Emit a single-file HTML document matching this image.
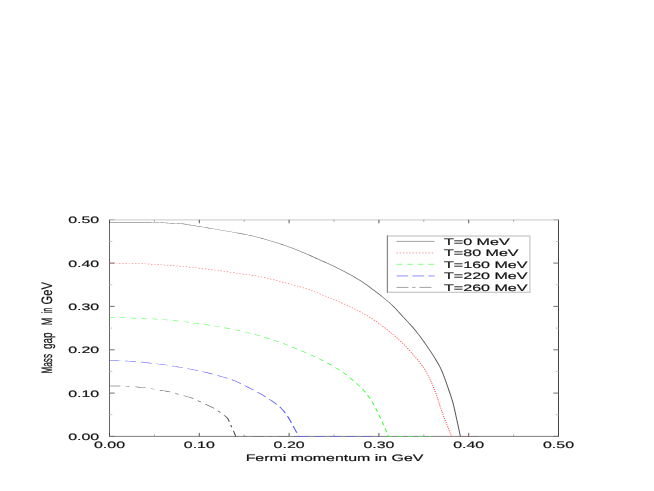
<!DOCTYPE html>
<html><head><meta charset="utf-8"><title>chart</title>
<style>
html,body{margin:0;padding:0;background:#fff;}
body{width:654px;height:491px;overflow:hidden;font-family:"Liberation Sans",sans-serif;}
svg{display:block;}
text{font-family:"Liberation Sans",sans-serif;fill:#111;stroke:#111;stroke-width:0.18;text-rendering:geometricPrecision;}
</style></head><body>
<svg width="654" height="491" viewBox="0 0 654 491">
<rect x="0" y="0" width="654" height="491" fill="#ffffff"/>

<g fill="none" stroke-linecap="butt">
<line x1="109.5" y1="219.8" x2="558.5" y2="219.8" stroke="#d4d4d4" stroke-width="1.3"/>
<line x1="109.5" y1="436.4" x2="558.5" y2="436.4" stroke="#808080" stroke-width="1"/>
<line x1="109.5" y1="219.8" x2="109.5" y2="436.4" stroke="#666" stroke-width="1"/>
<line x1="558.5" y1="219.8" x2="558.5" y2="436.4" stroke="#444" stroke-width="1"/>
<line x1="109.5" y1="436.4" x2="109.5" y2="432.9" stroke="#444" stroke-width="0.9"/>
<line x1="109.5" y1="219.8" x2="109.5" y2="223.3" stroke="#444" stroke-width="0.9"/>
<line x1="109.5" y1="436.4" x2="114.7" y2="436.4" stroke="#707070" stroke-width="1"/>
<line x1="558.5" y1="436.4" x2="553.3" y2="436.4" stroke="#707070" stroke-width="1"/>
<line x1="154.4" y1="436.4" x2="154.4" y2="434.5" stroke="#999" stroke-width="0.9"/>
<line x1="154.4" y1="219.8" x2="154.4" y2="221.7" stroke="#999" stroke-width="0.9"/>
<line x1="109.5" y1="414.7" x2="112.3" y2="414.7" stroke="#c8c8c8" stroke-width="1"/>
<line x1="558.5" y1="414.7" x2="555.7" y2="414.7" stroke="#c8c8c8" stroke-width="1"/>
<line x1="199.3" y1="436.4" x2="199.3" y2="432.9" stroke="#444" stroke-width="0.9"/>
<line x1="199.3" y1="219.8" x2="199.3" y2="223.3" stroke="#444" stroke-width="0.9"/>
<line x1="109.5" y1="393.1" x2="114.7" y2="393.1" stroke="#707070" stroke-width="1"/>
<line x1="558.5" y1="393.1" x2="553.3" y2="393.1" stroke="#707070" stroke-width="1"/>
<line x1="244.2" y1="436.4" x2="244.2" y2="434.5" stroke="#999" stroke-width="0.9"/>
<line x1="244.2" y1="219.8" x2="244.2" y2="221.7" stroke="#999" stroke-width="0.9"/>
<line x1="109.5" y1="371.4" x2="112.3" y2="371.4" stroke="#c8c8c8" stroke-width="1"/>
<line x1="558.5" y1="371.4" x2="555.7" y2="371.4" stroke="#c8c8c8" stroke-width="1"/>
<line x1="289.1" y1="436.4" x2="289.1" y2="432.9" stroke="#444" stroke-width="0.9"/>
<line x1="289.1" y1="219.8" x2="289.1" y2="223.3" stroke="#444" stroke-width="0.9"/>
<line x1="109.5" y1="349.8" x2="114.7" y2="349.8" stroke="#707070" stroke-width="1"/>
<line x1="558.5" y1="349.8" x2="553.3" y2="349.8" stroke="#707070" stroke-width="1"/>
<line x1="334.0" y1="436.4" x2="334.0" y2="434.5" stroke="#999" stroke-width="0.9"/>
<line x1="334.0" y1="219.8" x2="334.0" y2="221.7" stroke="#999" stroke-width="0.9"/>
<line x1="109.5" y1="328.1" x2="112.3" y2="328.1" stroke="#c8c8c8" stroke-width="1"/>
<line x1="558.5" y1="328.1" x2="555.7" y2="328.1" stroke="#c8c8c8" stroke-width="1"/>
<line x1="378.9" y1="436.4" x2="378.9" y2="432.9" stroke="#444" stroke-width="0.9"/>
<line x1="378.9" y1="219.8" x2="378.9" y2="223.3" stroke="#444" stroke-width="0.9"/>
<line x1="109.5" y1="306.4" x2="114.7" y2="306.4" stroke="#707070" stroke-width="1"/>
<line x1="558.5" y1="306.4" x2="553.3" y2="306.4" stroke="#707070" stroke-width="1"/>
<line x1="423.8" y1="436.4" x2="423.8" y2="434.5" stroke="#999" stroke-width="0.9"/>
<line x1="423.8" y1="219.8" x2="423.8" y2="221.7" stroke="#999" stroke-width="0.9"/>
<line x1="109.5" y1="284.8" x2="112.3" y2="284.8" stroke="#c8c8c8" stroke-width="1"/>
<line x1="558.5" y1="284.8" x2="555.7" y2="284.8" stroke="#c8c8c8" stroke-width="1"/>
<line x1="468.7" y1="436.4" x2="468.7" y2="432.9" stroke="#444" stroke-width="0.9"/>
<line x1="468.7" y1="219.8" x2="468.7" y2="223.3" stroke="#444" stroke-width="0.9"/>
<line x1="109.5" y1="263.1" x2="114.7" y2="263.1" stroke="#707070" stroke-width="1"/>
<line x1="558.5" y1="263.1" x2="553.3" y2="263.1" stroke="#707070" stroke-width="1"/>
<line x1="513.6" y1="436.4" x2="513.6" y2="434.5" stroke="#999" stroke-width="0.9"/>
<line x1="513.6" y1="219.8" x2="513.6" y2="221.7" stroke="#999" stroke-width="0.9"/>
<line x1="109.5" y1="241.5" x2="112.3" y2="241.5" stroke="#c8c8c8" stroke-width="1"/>
<line x1="558.5" y1="241.5" x2="555.7" y2="241.5" stroke="#c8c8c8" stroke-width="1"/>
<line x1="558.5" y1="436.4" x2="558.5" y2="432.9" stroke="#444" stroke-width="0.9"/>
<line x1="558.5" y1="219.8" x2="558.5" y2="223.3" stroke="#444" stroke-width="0.9"/>
<line x1="109.5" y1="219.8" x2="114.7" y2="219.8" stroke="#b0b0b0" stroke-width="1"/>
<line x1="558.5" y1="219.8" x2="553.3" y2="219.8" stroke="#b0b0b0" stroke-width="1"/>
</g>
<g fill="none" stroke-linejoin="round" stroke-linecap="butt" transform="scale(2.50,1)">
<path d="M43.80,222.20 L45.10,222.20 L46.89,222.20 L49.03,222.20 L51.37,222.19 L53.78,222.20 L56.11,222.22 L58.23,222.25 L60.00,222.30 L61.46,222.38 L62.76,222.48 L63.92,222.59 L64.98,222.72 L65.94,222.85 L66.83,222.98 L67.67,223.10 L68.48,223.20 L69.21,223.27 L69.81,223.32 L70.32,223.35 L70.78,223.39 L71.23,223.43 L71.70,223.51 L72.24,223.63 L72.88,223.80 L73.61,224.03 L74.38,224.31 L75.19,224.62 L76.04,224.96 L76.92,225.33 L77.83,225.71 L78.77,226.11 L79.72,226.50 L80.70,226.90 L81.72,227.32 L82.77,227.76 L83.84,228.21 L84.93,228.67 L86.04,229.14 L87.16,229.62 L88.28,230.10 L89.44,230.59 L90.64,231.10 L91.88,231.62 L93.12,232.14 L94.34,232.67 L95.53,233.19 L96.65,233.70 L97.68,234.20 L98.61,234.67 L99.44,235.10 L100.21,235.52 L100.94,235.94 L101.65,236.38 L102.39,236.84 L103.16,237.34 L104.00,237.90 L104.91,238.52 L105.85,239.17 L106.83,239.86 L107.83,240.59 L108.84,241.34 L109.85,242.11 L110.85,242.90 L111.84,243.70 L112.82,244.52 L113.79,245.35 L114.77,246.20 L115.74,247.07 L116.71,247.97 L117.69,248.89 L118.66,249.83 L119.64,250.80 L120.61,251.79 L121.58,252.81 L122.55,253.86 L123.52,254.93 L124.49,256.01 L125.47,257.12 L126.47,258.25 L127.48,259.40 L128.52,260.57 L129.58,261.76 L130.66,262.97 L131.74,264.21 L132.82,265.46 L133.90,266.72 L134.96,268.01 L136.00,269.30 L137.02,270.61 L138.03,271.92 L139.03,273.26 L140.03,274.61 L141.00,275.97 L141.97,277.36 L142.91,278.77 L143.84,280.20 L144.75,281.66 L145.64,283.16 L146.52,284.68 L147.38,286.22 L148.23,287.78 L149.06,289.33 L149.88,290.87 L150.68,292.40 L151.47,293.92 L152.25,295.45 L153.02,296.98 L153.78,298.50 L154.51,300.02 L155.22,301.53 L155.91,303.02 L156.56,304.50 L157.17,305.94 L157.74,307.35 L158.27,308.73 L158.78,310.11 L159.28,311.50 L159.79,312.92 L160.32,314.38 L160.88,315.90 L161.47,317.48 L162.08,319.10 L162.70,320.76 L163.34,322.45 L163.97,324.16 L164.59,325.90 L165.21,327.65 L165.80,329.40 L166.38,331.16 L166.94,332.94 L167.50,334.74 L168.05,336.55 L168.59,338.38 L169.13,340.23 L169.67,342.11 L170.20,344.00 L170.74,345.94 L171.29,347.94 L171.84,349.98 L172.38,352.02 L172.91,354.06 L173.42,356.07 L173.91,358.02 L174.36,359.90 L174.77,361.62 L175.13,363.17 L175.47,364.62 L175.78,366.06 L176.10,367.57 L176.41,369.23 L176.75,371.11 L177.12,373.30 L177.53,375.92 L177.98,378.96 L178.46,382.27 L178.94,385.70 L179.40,389.11 L179.84,392.36 L180.23,395.31 L180.56,397.80 L180.81,399.71 L180.99,401.11 L181.12,402.18 L181.22,403.11 L181.32,404.05 L181.43,405.20 L181.57,406.72 L181.76,408.80 L182.02,411.64 L182.33,415.18 L182.68,419.15 L183.03,423.29 L183.38,427.34 L183.70,431.05 L183.97,434.16 L184.16,436.40 L191.40,436.40" stroke="#5a5a5a" stroke-width="0.42"/>
<path d="M43.80,263.00 L44.37,263.03 M45.08,263.06 L45.65,263.08 M46.36,263.11 L46.92,263.14 M47.63,263.17 L47.82,263.18 L48.20,263.19 M48.91,263.22 L49.48,263.25 M50.19,263.28 L50.76,263.31 M51.47,263.35 L51.51,263.35 L52.03,263.38 M52.74,263.42 L53.31,263.45 M54.02,263.50 L54.59,263.53 M55.30,263.58 L55.87,263.63 M56.57,263.69 L56.68,263.70 L57.14,263.75 M57.85,263.82 L58.05,263.85 L58.42,263.89 M59.12,263.98 L59.35,264.01 L59.69,264.06 M60.40,264.16 L60.58,264.18 L60.96,264.24 M61.67,264.35 L61.77,264.37 L62.24,264.45 M62.94,264.57 L62.94,264.57 L63.51,264.67 M64.21,264.79 L64.78,264.89 M65.48,265.02 L66.05,265.12 M66.75,265.25 L67.32,265.35 M68.02,265.48 L68.59,265.58 M69.29,265.71 L69.86,265.82 M70.56,265.96 L71.13,266.07 M71.83,266.21 L72.40,266.33 M73.10,266.47 L73.67,266.60 M74.37,266.75 L74.93,266.88 M75.63,267.05 L76.20,267.19 M76.90,267.37 L77.46,267.51 M78.16,267.70 L78.69,267.85 L78.72,267.86 M79.42,268.06 L79.91,268.20 L79.98,268.22 M80.68,268.42 L81.14,268.56 L81.24,268.59 M81.94,268.80 L82.36,268.93 L82.50,268.97 M83.19,269.19 L83.59,269.31 L83.75,269.36 M84.45,269.59 L84.81,269.70 L85.01,269.77 M85.70,269.99 L86.04,270.10 L86.26,270.17 M86.96,270.40 L87.27,270.51 L87.51,270.59 M88.21,270.83 L88.52,270.94 L88.77,271.03 M89.46,271.27 L89.77,271.38 L90.02,271.47 M90.71,271.72 L91.01,271.83 L91.27,271.92 M91.96,272.17 L92.25,272.28 L92.51,272.37 M93.21,272.63 L93.47,272.73 L93.76,272.83 M94.45,273.09 L94.67,273.17 L95.01,273.29 M95.70,273.55 L95.84,273.60 L96.26,273.75 M96.95,274.00 L96.97,274.01 L97.51,274.19 M98.20,274.43 L98.76,274.62 M99.45,274.86 L100.01,275.05 M100.70,275.30 L101.24,275.50 L101.26,275.50 M101.95,275.77 L102.30,275.91 L102.50,276.00 M103.19,276.29 L103.38,276.37 L103.74,276.55 M104.42,276.87 L104.48,276.90 L104.96,277.15 M105.64,277.50 L106.18,277.81 M106.85,278.18 L107.39,278.50 M108.06,278.89 L108.59,279.22 M109.25,279.63 L109.79,279.97 M110.45,280.39 L110.98,280.73 M111.64,281.16 L112.17,281.51 M112.83,281.95 L113.36,282.30 M114.01,282.74 L114.54,283.09 M115.20,283.53 L115.73,283.88 M116.39,284.31 L116.92,284.66 M117.58,285.10 L118.10,285.46 M118.76,285.92 L119.28,286.29 M119.93,286.76 L120.45,287.16 M121.09,287.65 L121.61,288.06 M122.24,288.57 L122.75,289.01 M123.38,289.55 L123.56,289.70 L123.88,289.99 M124.50,290.56 L125.00,291.02 M125.62,291.60 L126.11,292.07 M126.73,292.66 L127.22,293.15 M127.83,293.75 L128.27,294.19 L128.32,294.23 M128.92,294.84 L129.41,295.34 M130.01,295.95 L130.50,296.45 M131.10,297.07 L131.59,297.56 M132.19,298.19 L132.67,298.69 M133.27,299.32 L133.75,299.83 M134.35,300.46 L134.69,300.82 L134.83,300.96 M135.43,301.60 L135.91,302.11 M136.51,302.74 L136.99,303.26 M137.58,303.90 L138.06,304.42 M138.65,305.08 L138.99,305.46 L139.12,305.62 M139.70,306.29 L139.78,306.39 L140.16,306.84 M140.74,307.53 L141.19,308.10 M141.76,308.81 L142.03,309.16 L142.21,309.39 M142.77,310.11 L142.84,310.20 L143.22,310.70 M143.77,311.43 L144.22,312.02 M144.77,312.76 L145.21,313.36 M145.76,314.12 L146.16,314.68 L146.19,314.73 M146.73,315.50 L146.98,315.87 L147.16,316.13 M147.68,316.92 L147.80,317.09 L148.10,317.56 M148.62,318.37 L148.62,318.37 L149.03,319.03 M149.53,319.86 L149.93,320.53 M150.42,321.38 L150.82,322.07 M151.30,322.94 L151.68,323.64 M152.16,324.51 L152.54,325.22 M153.00,326.11 L153.38,326.83 M153.84,327.72 L154.21,328.44 M154.67,329.34 L155.04,330.07 M155.49,330.97 L155.85,331.71 M156.30,332.62 L156.66,333.35 M157.11,334.27 L157.35,334.77 L157.46,335.02 M157.90,335.95 L157.97,336.10 L158.24,336.70 M158.67,337.64 L159.01,338.40 M159.43,339.36 L159.72,340.04 L159.76,340.13 M160.17,341.09 L160.30,341.39 L160.50,341.87 M160.90,342.84 L161.22,343.63 M161.61,344.61 L161.92,345.40 M162.31,346.39 L162.59,347.11 L162.62,347.19 M162.99,348.19 L163.14,348.58 L163.29,349.00 M163.66,350.01 L163.69,350.09 L163.96,350.82 M164.32,351.84 L164.60,352.66 M164.95,353.68 L165.23,354.51 M165.58,355.54 L165.86,356.37 M166.21,357.40 L166.48,358.23 M166.83,359.26 L167.10,360.09 M167.44,361.13 L167.71,361.96 M168.05,363.00 L168.31,363.85 M168.63,364.90 L168.88,365.75 M169.19,366.81 L169.43,367.67 M169.73,368.74 L169.74,368.77 L169.95,369.62 M170.23,370.70 L170.28,370.90 L170.44,371.59 M170.70,372.69 L170.78,373.06 L170.89,373.58 M171.13,374.69 L171.25,375.26 L171.32,375.59 M171.54,376.71 L171.70,377.49 L171.72,377.61 M171.93,378.73 L172.10,379.64 M172.30,380.77 L172.46,381.68 M172.66,382.82 L172.81,383.73 M173.00,384.87 L173.15,385.79 M173.34,386.93 L173.49,387.84 M173.67,388.98 L173.72,389.30 L173.81,389.90 M173.99,391.04 L174.11,391.86 L174.13,391.97 M174.29,393.11 L174.43,394.04 M174.59,395.19 L174.71,396.11 M174.87,397.26 L174.88,397.33 L174.99,398.19 M175.14,399.34 L175.25,400.12 L175.27,400.27 M175.42,401.42 L175.54,402.35 M175.69,403.51 L175.81,404.43 M175.96,405.59 L175.96,405.61 L176.08,406.52 M176.24,407.67 L176.31,408.19 L176.36,408.59 M176.52,409.74 L176.64,410.60 L176.65,410.67 M176.82,411.82 L176.95,412.74 M177.12,413.89 L177.25,414.81 M177.42,415.95 L177.56,416.88 M177.73,418.02 L177.87,418.94 M178.05,420.08 L178.19,421.00 L178.19,421.00 M178.37,422.15 L178.47,422.81 L178.51,423.07 M178.69,424.21 L178.74,424.55 L178.83,425.13 M179.01,426.27 L179.16,427.19 M179.34,428.33 L179.49,429.25 M179.67,430.38 L179.75,430.87 L179.83,431.30 M180.01,432.44 L180.17,433.35 M180.36,434.49 L180.39,434.69 L180.51,435.40 M180.77,436.40 L181.34,436.40 M182.04,436.40 L182.61,436.40 M183.32,436.40 L183.89,436.40 M184.60,436.40 L185.17,436.40 M185.88,436.40 L186.45,436.40 M187.16,436.40 L187.73,436.40" stroke="#ff4444" stroke-width="0.44"/>
<path d="M43.80,317.60 L44.74,317.65 L46.00,317.70 L46.11,317.70 M48.03,317.78 L49.15,317.83 L50.34,317.89 M52.26,318.00 L52.68,318.02 L54.40,318.15 L54.56,318.17 M56.48,318.35 L57.51,318.47 L58.79,318.62 M60.70,318.88 L62.01,319.07 L63.00,319.23 M64.91,319.56 L65.00,319.58 L66.50,319.87 L67.20,320.03 M69.10,320.47 L69.52,320.57 L71.05,320.97 L71.39,321.07 M73.28,321.62 L74.14,321.87 L75.55,322.32 M77.43,322.93 L78.61,323.32 L79.70,323.70 M81.58,324.35 L82.61,324.72 L83.83,325.18 M85.70,325.92 L86.22,326.13 L87.40,326.63 L87.94,326.86 M89.79,327.70 L89.80,327.70 L91.02,328.27 L92.01,328.75 M93.85,329.67 L94.68,330.10 L95.90,330.75 L96.05,330.84 M97.87,331.88 L98.34,332.15 L99.56,332.90 L100.04,333.21 M101.83,334.37 L102.01,334.49 L103.23,335.33 L103.96,335.84 M105.72,337.12 L106.91,338.03 L107.82,338.74 M109.54,340.15 L110.59,341.05 L111.59,341.93 M113.27,343.47 L114.26,344.41 L115.28,345.39 M116.93,347.02 L117.94,348.04 L118.90,349.03 M120.52,350.73 L121.65,351.93 L122.47,352.81 M124.07,354.57 L124.17,354.69 L125.42,356.09 L125.98,356.74 M127.54,358.60 L127.80,358.91 L128.92,360.30 L129.39,360.91 M130.89,362.90 L131.04,363.09 L132.05,364.50 L132.66,365.38 M134.09,367.51 L134.87,368.70 L135.74,370.06 L135.78,370.14 M137.15,372.39 L137.33,372.69 L138.04,373.94 L138.70,375.17 L138.72,375.20 M139.96,377.64 L140.53,378.83 L141.12,380.09 L141.39,380.67 M142.54,383.23 L142.93,384.12 L143.52,385.51 L143.88,386.37 M144.94,389.04 L145.24,389.82 L145.77,391.30 L146.12,392.34 M147.02,395.17 L147.22,395.87 L147.66,397.43 L147.99,398.66 M148.74,401.61 L148.90,402.26 L149.29,403.92 L149.59,405.19 M150.25,408.19 L150.43,409.02 L150.78,410.76 L151.00,411.84 M151.58,414.88 L151.82,416.14 L152.17,418.00 L152.27,418.56 M152.83,421.62 L152.90,421.97 L153.30,424.26 L153.49,425.31 M154.02,428.39 L154.14,429.04 L154.53,431.32 L154.66,432.09 M155.19,435.16 L155.40,436.40 L156.94,436.40 M158.86,436.40 L161.17,436.40 M163.09,436.40 L165.40,436.40 M167.32,436.40 L169.63,436.40 M171.55,436.40 L172.40,436.40" stroke="#3cff3c" stroke-width="0.46"/>
<path d="M43.80,360.80 L44.15,360.80 L44.59,360.80 L45.12,360.80 L45.72,360.81 L46.37,360.81 L47.05,360.83 L47.74,360.86 L48.15,360.88 M50.13,361.02 L50.71,361.07 L51.53,361.14 L52.36,361.23 L53.20,361.33 L54.03,361.46 L54.47,361.53 M56.43,361.96 L56.44,361.97 L57.24,362.19 L58.05,362.42 L58.85,362.66 L59.65,362.91 L60.44,363.16 L60.71,363.24 M62.66,363.82 L62.83,363.87 L63.62,364.10 L64.41,364.34 L65.21,364.59 L65.99,364.85 L66.78,365.12 L66.93,365.17 M68.86,365.92 L69.11,366.02 L69.88,366.35 L70.64,366.69 L71.41,367.04 L72.18,367.39 L72.95,367.75 L73.06,367.80 M74.98,368.65 L75.29,368.79 L76.08,369.13 L76.87,369.48 L77.66,369.84 L78.44,370.21 L79.17,370.57 M81.05,371.59 L81.50,371.85 L82.24,372.30 L82.97,372.76 L83.72,373.23 L84.47,373.73 L85.12,374.17 M86.95,375.43 L87.79,376.01 L88.72,376.66 L89.65,377.33 L90.57,378.01 L90.94,378.29 M92.73,379.73 L93.04,380.00 L93.69,380.61 L94.27,381.20 L94.78,381.78 L95.27,382.36 L95.73,382.94 L96.21,383.56 L96.35,383.73 M97.94,385.69 L98.53,386.42 L99.20,387.23 L99.87,388.06 L100.56,388.92 L101.25,389.80 L101.42,390.03 M102.96,392.10 L103.27,392.53 L103.95,393.49 L104.63,394.47 L105.31,395.48 L105.98,396.48 L106.23,396.88 M107.67,399.15 L107.88,399.50 L108.47,400.47 L109.04,401.43 L109.59,402.37 L110.13,403.32 L110.65,404.28 L110.69,404.36 M111.92,406.95 L112.12,407.40 L112.57,408.54 L113.01,409.71 L113.42,410.91 L113.82,412.15 L114.13,413.18 M114.99,416.16 L115.32,417.40 L115.68,418.83 L116.04,420.35 L116.40,421.93 L116.60,422.89 M117.26,426.00 L117.39,426.62 L117.68,428.03 L117.96,429.30 L118.22,430.47 L118.47,431.58 L118.71,432.63 L118.75,432.81 M119.45,435.90 L119.56,436.40 L123.59,436.40 M125.57,436.40 L129.92,436.40 M131.90,436.40 L136.25,436.40 M138.23,436.40 L142.58,436.40 M144.56,436.40 L148.91,436.40 M150.89,436.40 L151.68,436.40" stroke="#5050ff" stroke-width="0.46"/>
<path d="M43.80,385.90 L44.15,385.91 L44.60,385.92 L45.14,385.93 L45.74,385.95 L46.39,385.97 L47.06,386.00 L47.74,386.04 L48.18,386.08 M50.27,386.32 L50.54,386.35 L51.31,386.46 L51.71,386.52 M53.92,386.87 L54.12,386.90 L54.68,387.00 L55.18,387.09 L55.63,387.17 L56.07,387.26 L56.50,387.36 L56.95,387.48 L57.44,387.62 L58.00,387.80 L58.25,387.89 M60.30,388.64 L60.83,388.85 L61.58,389.15 L61.70,389.20 M63.86,390.09 L64.21,390.24 L64.74,390.46 L65.24,390.67 L65.71,390.87 L66.16,391.07 L66.59,391.27 L67.02,391.48 L67.44,391.70 L67.83,391.91 L68.07,392.06 M70.02,393.37 L70.36,393.60 L70.97,394.01 L71.36,394.26 M73.43,395.61 L74.12,396.07 L74.91,396.61 L75.63,397.13 L76.24,397.60 L76.73,398.01 L77.13,398.38 L77.40,398.65 M79.12,400.66 L79.16,400.70 L79.70,401.30 L80.31,402.00 L80.31,402.00 M82.14,404.10 L82.33,404.32 L82.98,405.08 L83.57,405.78 L84.08,406.40 L84.49,406.91 L84.82,407.31 L85.10,407.66 L85.35,407.98 L85.59,408.32 L85.67,408.43 M87.17,410.88 L87.51,411.45 L88.08,412.43 L88.18,412.59 M89.68,415.31 L89.81,415.55 L90.29,416.52 L90.68,417.40 L90.97,418.17 L91.18,418.86 L91.33,419.51 L91.45,420.12 L91.54,420.75 L91.63,421.40 L91.67,421.68 M92.29,425.03 L92.44,425.83 L92.64,426.90 L92.71,427.32 M93.35,430.86 L93.36,430.90 L93.51,431.74 L93.66,432.58 L93.80,433.39 L93.93,434.15 L94.05,434.85 L94.16,435.47 L94.25,435.99 L94.32,436.40 L95.24,436.40 M97.34,436.40 L98.78,436.40 M101.00,436.40 L105.38,436.40 M107.48,436.40 L108.92,436.40 M111.14,436.40 L115.52,436.40 M117.62,436.40 L119.06,436.40" stroke="#484848" stroke-width="0.44"/>
</g>
<g opacity="0.99">
<rect x="387.4" y="236.0" width="142.5" height="56.3" fill="#fff" stroke="#cacaca" stroke-width="1.3"/>
<line x1="387.4" y1="235.4" x2="387.4" y2="292.9" stroke="#808080" stroke-width="1"/>
<line x1="396.5" y1="241.4" x2="434.5" y2="241.4" stroke="#a4a4a4" stroke-width="1" />
<text transform="translate(444.0,244.7) scale(1.714,1)" font-size="9.4">T=0 MeV</text>
<line x1="396.5" y1="252.9" x2="434.5" y2="252.9" stroke="#ffa8a8" stroke-width="1.3" stroke-dasharray="1.4 1.8"/>
<text transform="translate(444.0,256.2) scale(1.714,1)" font-size="9.4">T=80 MeV</text>
<line x1="396.5" y1="264.4" x2="434.5" y2="264.4" stroke="#a0ffa0" stroke-width="1.2" stroke-dasharray="5.9 4.7"/>
<text transform="translate(444.0,267.7) scale(1.714,1)" font-size="9.4">T=160 MeV</text>
<line x1="396.5" y1="275.9" x2="434.5" y2="275.9" stroke="#c0c0ff" stroke-width="1.8" stroke-dasharray="11.6 4.4"/>
<text transform="translate(444.0,279.2) scale(1.714,1)" font-size="9.4">T=220 MeV</text>
<line x1="396.5" y1="287.4" x2="434.5" y2="287.4" stroke="#a4a4a4" stroke-width="1" stroke-dasharray="12 3.7 3.3 4"/>
<text transform="translate(444.0,290.7) scale(1.714,1)" font-size="9.4">T=260 MeV</text>
<text transform="translate(109.5,447.8) scale(1.70,1)" font-size="9.4" text-anchor="middle">0.00</text>
<text transform="translate(99.2,439.9) scale(1.70,1)" font-size="9.4" text-anchor="end">0.00</text>
<text transform="translate(199.3,447.8) scale(1.70,1)" font-size="9.4" text-anchor="middle">0.10</text>
<text transform="translate(99.2,396.6) scale(1.70,1)" font-size="9.4" text-anchor="end">0.10</text>
<text transform="translate(289.1,447.8) scale(1.70,1)" font-size="9.4" text-anchor="middle">0.20</text>
<text transform="translate(99.2,353.3) scale(1.70,1)" font-size="9.4" text-anchor="end">0.20</text>
<text transform="translate(378.9,447.8) scale(1.70,1)" font-size="9.4" text-anchor="middle">0.30</text>
<text transform="translate(99.2,309.9) scale(1.70,1)" font-size="9.4" text-anchor="end">0.30</text>
<text transform="translate(468.7,447.8) scale(1.70,1)" font-size="9.4" text-anchor="middle">0.40</text>
<text transform="translate(99.2,266.6) scale(1.70,1)" font-size="9.4" text-anchor="end">0.40</text>
<text transform="translate(558.5,447.8) scale(1.70,1)" font-size="9.4" text-anchor="middle">0.50</text>
<text transform="translate(99.2,223.3) scale(1.70,1)" font-size="9.4" text-anchor="end">0.50</text>
<text transform="translate(334.5,460.6) scale(1.697,1)" font-size="9.4" text-anchor="middle">Fermi momentum in GeV</text>
<text transform="translate(52.1,373.4) rotate(-90) scale(1,1.5)" font-size="10" textLength="19.4" lengthAdjust="spacingAndGlyphs">Mass</text>
<text transform="translate(52.1,349.1) rotate(-90) scale(1,1.5)" font-size="10" textLength="16.6" lengthAdjust="spacingAndGlyphs">gap</text>
<text transform="translate(52.1,325.3) rotate(-90) scale(1,1.5)" font-size="10" textLength="7.6" lengthAdjust="spacingAndGlyphs">M</text>
<text transform="translate(52.1,313.3) rotate(-90) scale(1,1.5)" font-size="10" textLength="5.6" lengthAdjust="spacingAndGlyphs">in</text>
<text transform="translate(52.1,304.4) rotate(-90) scale(1,1.5)" font-size="10" textLength="22.2" lengthAdjust="spacingAndGlyphs">GeV</text>
</g>
</svg>
</body></html>
